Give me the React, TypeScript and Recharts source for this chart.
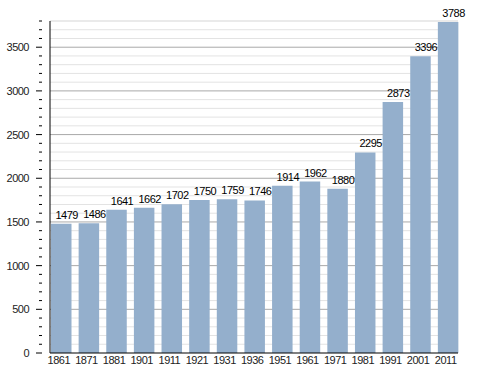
import React from "react";
import { BarChart, Bar, XAxis, YAxis, CartesianGrid, LabelList } from "recharts";

const years = ["1861", "1871", "1881", "1901", "1911", "1921", "1931", "1936", "1951", "1961", "1971", "1981", "1991", "2001", "2011"];
const population = [1479, 1486, 1641, 1662, 1702, 1750, 1759, 1746, 1914, 1962, 1880, 2295, 2873, 3396, 3788];
const minorTicks = Array.from({ length: 39 }, (_, i) => i * 100);
const majorTicks = [0, 500, 1000, 1500, 2000, 2500, 3000, 3500];

const data = years.map((y, i) => ({ year: y, value: population[i] }));

const FONT = "'Liberation Sans', Arial, sans-serif";

const YTick = (props: any) => {
  const { x, y, payload } = props;
  const v = payload.value;
  const major = v % 500 === 0;
  const ax = x;
  return (
    <g>
      <line x1={ax - (major ? 6 : 3)} x2={ax} y1={y} y2={y} stroke="#000" strokeWidth={1} />
      {major && (
        <text x={ax - 13} y={y} dy={4} textAnchor="end" fontSize={11} letterSpacing={-0.5} fill="#222" fontFamily={FONT}>
          {v}
        </text>
      )}
    </g>
  );
};

const BarLabel = (props: any) => {
  const { x, y, width, value } = props;
  return (
    <text x={Number(x) + Number(width) / 2 + 5.5} y={Number(y) - 5} textAnchor="middle" fontSize={11} letterSpacing={-0.5} fill="#000" fontFamily={FONT}>
      {value}
    </text>
  );
};

export default function App() {
  return (
    <div style={{ position: "absolute", left: 0, top: 0, background: "#fff" }}>
      <BarChart
        width={488}
        height={373}
        data={data}
        margin={{ top: 21, right: 30, bottom: 0, left: 0 }}
        barCategoryGap={0}
      >
        <CartesianGrid vertical={false} horizontalValues={minorTicks.filter((v) => v % 500 !== 0).concat([3800])} stroke="#e3e3e3" strokeWidth={1} />
        <CartesianGrid vertical={false} horizontalValues={majorTicks.filter((v) => v > 0)} stroke="#a9a9a9" strokeWidth={1} />
        <XAxis
          dataKey="year"
          height={20}
          padding={{ left: -3, right: -3.5 }}
          tickLine={false}
          tickSize={0}
          axisLine={{ stroke: "#000", strokeWidth: 1 }}
          tick={{ fontSize: 11, fill: "#222", fontFamily: FONT, dx: -2, letterSpacing: -0.5 }}
          tickMargin={3}
          interval={0}
        />
        <YAxis
          width={50}
          domain={[0, 3800]}
          ticks={minorTicks}
          interval={0}
          tickLine={false}
          axisLine={{ stroke: "#000", strokeWidth: 1 }}
          tick={<YTick />}
          allowDataOverflow
        />
        <Bar dataKey="value" fill="#94afcc" barSize={20.5} isAnimationActive={false}>
          <LabelList dataKey="value" content={<BarLabel />} />
        </Bar>
      </BarChart>
    </div>
  );
}
